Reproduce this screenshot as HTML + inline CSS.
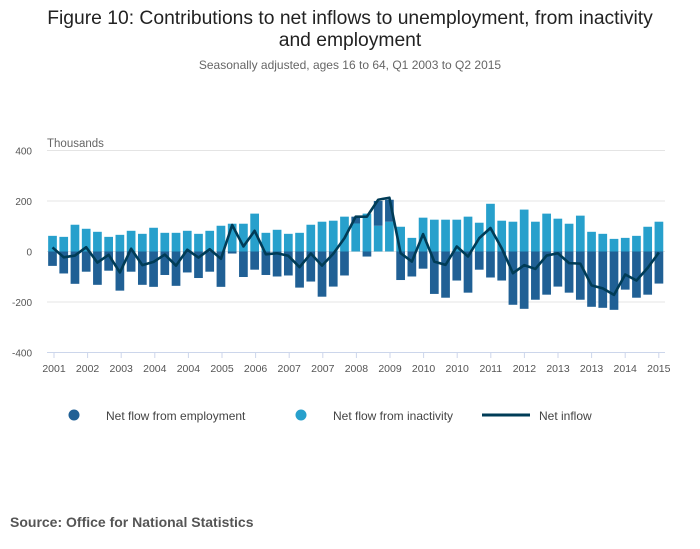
<!DOCTYPE html>
<html><head><meta charset="utf-8">
<style>
body{margin:0;background:#fff;font-family:"Liberation Sans",sans-serif;}
#wrap{position:relative;width:700px;height:549px;overflow:hidden;}
</style></head>
<body>
<div id="wrap">
<svg id="chart" width="700" height="549" xmlns="http://www.w3.org/2000/svg">
<text x="350" y="24" text-anchor="middle" font-size="19.3" fill="#222">Figure 10: Contributions to net inflows to unemployment, from inactivity</text>
<text x="350" y="46" text-anchor="middle" font-size="19.3" fill="#222">and employment</text>
<text x="350" y="69" text-anchor="middle" font-size="12" fill="#666">Seasonally adjusted, ages 16 to 64, Q1 2003 to Q2 2015</text>
<text x="47" y="147" font-size="11.5" fill="#666">Thousands</text>
<g id="grid"></g><g id="bars"></g><g id="line"></g><g id="xaxis"></g>
<g>
<g><circle cx="74" cy="415" r="5.5" fill="#206095"/><text x="106" y="420" font-size="12" fill="#444">Net flow from employment</text></g>
<g><circle cx="301" cy="415" r="5.5" fill="#27a0cc"/><text x="333" y="420" font-size="12" fill="#444">Net flow from inactivity</text></g>
<g><line x1="482" y1="415" x2="530" y2="415" stroke="#003c57" stroke-width="3"/><text x="539" y="420" font-size="12" fill="#444">Net inflow</text></g>
</g>
<text x="10" y="527" font-size="14" font-weight="bold" fill="#555">Source: Office for National Statistics</text>
</svg>
</div>
<script>
const xLabels=["2001","2002","2003","2004","2004","2005","2006","2007","2007","2008","2009","2010","2010","2011","2012","2013","2013","2014","2015"];
const yTicks=[400,200,0,-200,-400];
const inactivity=[62,58,106,90,78,58,66,82,70,94,74,74,82,70,82,102,110,110,150,74,86,70,74,106,118,122,138,111,150,102,118,98,54,134,126,126,126,138,114,189,122,118,166,118,150,130,110,142,78,70,50,54,62,98,118];
const employment=[-57,-87,-128,-80,-132,-76,-155,-80,-132,-140,-93,-136,-83,-105,-80,-140,-8,-101,-72,-93,-99,-95,-143,-119,-179,-139,-95,27,-20,98,87,-113,-99,-68,-168,-183,-115,-163,-72,-103,-115,-211,-227,-191,-171,-139,-163,-191,-219,-223,-231,-151,-183,-171,-127];
const netInflow=[16,-23,-16,17,-44,-13,-83,11,-54,-41,-12,-56,7,-24,9,-29,105,20,82,-11,-7,-17,-62,-8,-56,-9,53,138,138,205,213,-7,-40,69,-40,-53,20,-20,53,93,13,-86,-54,-69,-16,-7,-46,-48,-134,-146,-172,-91,-115,-65,-4];
const NS="http://www.w3.org/2000/svg";
const y=v=>251.5-v*0.2525;
const x=i=>52.5+i*11.23;
const tickX=k=>54+k*33.6;
function mk(tag,attrs,parent){const e=document.createElementNS(NS,tag);for(const k in attrs)e.setAttribute(k,attrs[k]);parent.appendChild(e);return e;}
const grid=document.getElementById('grid');
yTicks.forEach(t=>{
  const l=mk('line',{x1:47,x2:665,y1:y(t),y2:y(t),stroke:'#e4e4e4','stroke-width':1},grid);
  
  
  const tx=mk('text',{x:32,y:y(t)+4,'text-anchor':'end','font-size':10,fill:'#555'},grid);
  tx.textContent=t;
  
  
});
const bars=document.getElementById('bars');
const bw=8.7;
inactivity.forEach((v,i)=>{
  const r=mk('rect',{x:x(i)-bw/2,width:bw,y:Math.min(y(v),y(0)),height:Math.abs(y(v)-y(0)),fill:'#27a0cc'},bars);
  
  
});
employment.forEach((v,i)=>{
  let base=0;
  if(v>0) base=Math.max(0,inactivity[i]);
  const y0=y(base),y1=y(base+v);
  const r=mk('rect',{x:x(i)-bw/2,width:bw,y:Math.min(y0,y1),height:Math.abs(y1-y0),fill:'#206095'},bars);
  
  
});
const lineG=document.getElementById('line');
const p=mk('polyline',{points:netInflow.map((v,i)=>x(i)+','+y(v)).join(' '),fill:'none',stroke:'#003c57','stroke-width':2.6,'stroke-linejoin':'round'},lineG);


const xa=document.getElementById('xaxis');
const al=mk('line',{x1:47,x2:665,y1:352.5,y2:352.5,stroke:'#ccd6eb'},xa);


xLabels.forEach((lab,k)=>{
  const t=mk('line',{x1:tickX(k),x2:tickX(k),y1:352,y2:358,stroke:'#ccd6eb'},xa);
  
  
  const tx=mk('text',{x:tickX(k),y:372,'text-anchor':'middle','font-size':10.5,fill:'#555'},xa);
  tx.textContent=lab;
  
  
});
</script>
</body></html>
